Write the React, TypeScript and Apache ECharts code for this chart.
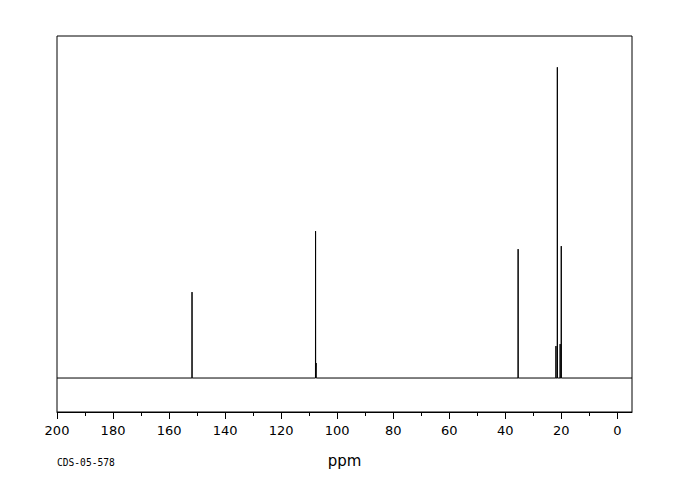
import React, { useEffect, useRef } from "react";
import * as echarts from "echarts";

// Peak positions (ppm) and relative intensities
const peakPpm: number[] = [151.8, 107.7, 107.5, 35.4, 21.9, 21.4, 20.4, 20.0];
const peakIntensity: number[] = [86, 147, 15, 129, 32, 311, 34, 132];

// Axis range (ppm) and tick values
const ppmMax = 200;
const ppmMin = -5.25;
const majorTicks: number[] = [0, 20, 40, 60, 80, 100, 120, 140, 160, 180, 200];
const minorTicks: number[] = [10, 30, 50, 70, 90, 110, 130, 150, 170, 190];
const intensityMin = -34;
const intensityMax = 342.3;

const axisTitle = "ppm";
const codeLabel = "CDS-05-578";

function buildSpectrum(): [number, number][] {
  const half = 0.04;
  const order = peakPpm
    .map((p, i) => ({ p, h: peakIntensity[i] }))
    .sort((a, b) => b.p - a.p);
  const pts: [number, number][] = [[ppmMax, 0]];
  for (const { p, h } of order) {
    pts.push([p + half, 0]);
    pts.push([p, h]);
    pts.push([p - half, 0]);
  }
  pts.push([ppmMin, 0]);
  return pts;
}

export default function App() {
  const ref = useRef<HTMLDivElement>(null);
  useEffect(() => {
    if (!ref.current) return;
    const chart = echarts.init(ref.current, null, { renderer: "svg" });
    const font = "DejaVu Sans";
    chart.setOption({
      animation: false,
      backgroundColor: "#ffffff",
      grid: {
        left: 57,
        right: 48,
        top: 36,
        bottom: 88,
        show: true,
        borderColor: "#000000",
        borderWidth: 1,
        outerBoundsMode: "none",
      },
      xAxis: [
        {
          type: "value",
          min: ppmMin,
          max: ppmMax,
          inverse: true,
          position: "bottom",
          name: axisTitle,
          nameLocation: "middle",
          nameGap: 41,
          nameTextStyle: { fontFamily: font, fontSize: 15, color: "#000" },
          axisLine: { show: true, onZero: false, lineStyle: { color: "#000", width: 1 } },
          axisTick: {
            show: true,
            customValues: majorTicks,
            length: 7,
            lineStyle: { color: "#000", width: 1 },
          },
          axisLabel: {
            customValues: majorTicks,
            fontFamily: font,
            fontSize: 13,
            color: "#000",
            margin: 12,
          },
          splitLine: { show: false },
        },
        {
          type: "value",
          min: ppmMin,
          max: ppmMax,
          inverse: true,
          position: "bottom",
          axisLine: { show: false, onZero: false },
          axisTick: {
            show: true,
            customValues: minorTicks,
            length: 4,
            lineStyle: { color: "#000", width: 1 },
          },
          axisLabel: { show: false },
          splitLine: { show: false },
        },
      ],
      yAxis: {
        type: "value",
        min: intensityMin,
        max: intensityMax,
        show: false,
        splitLine: { show: false },
      },
      graphic: [
        {
          type: "text",
          left: 57,
          top: 457,
          style: {
            text: codeLabel,
            fontFamily: "DejaVu Sans Mono",
            fontSize: 9.6,
            fill: "#000",
          },
        },
      ],
      series: [
        {
          type: "line",
          xAxisIndex: 0,
          data: buildSpectrum(),
          showSymbol: false,
          symbol: "none",
          lineStyle: { color: "#000", width: 1 },
          silent: true,
        },
      ],
    });
    return () => chart.dispose();
  }, []);
  return (
    <div
      ref={ref}
      style={{ position: "fixed", left: 0, top: 0, width: 680, height: 500 }}
    />
  );
}
